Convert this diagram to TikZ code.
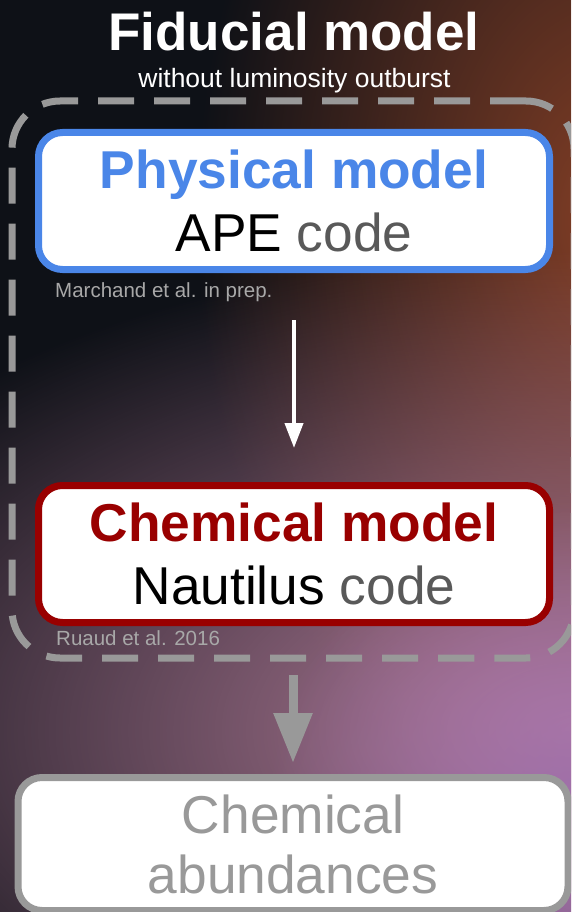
\documentclass[tikz,border=0pt]{standalone}
\usepackage{fontspec}
\setmainfont{Liberation Sans}
\usetikzlibrary{arrows.meta,fadings}

\definecolor{physblue}{HTML}{4A86E8}
\definecolor{chemred}{HTML}{990000}
\definecolor{codegray}{HTML}{595959}
\definecolor{boxgray}{HTML}{999999}
\definecolor{refgray}{HTML}{A8A8A8}
\definecolor{skydark}{HTML}{0E1117}
\definecolor{skybrown}{HTML}{843F26}
\definecolor{skyrose}{HTML}{B8809E}
\definecolor{skyviolet}{HTML}{A070AC}

\tikzfading[name=glow, inner color=transparent!0, outer color=transparent!100]

\begin{document}
\begin{tikzpicture}[x=1pt,y=-1pt,
	model/.style={draw, fill=white, line width=7pt, rounded corners=24pt, minimum width=511pt, minimum height=137pt, align=center, font=\fontsize{53.3}{63}\selectfont},
	ref/.style={text=refgray, font=\fontsize{20.5}{24}\selectfont, anchor=base west, inner sep=0pt}]
		\useasboundingbox (0,0) rectangle (571,912);
		\clip (0,0) rectangle (571,912);

		\fill[skydark] (0,0) rectangle (571,912);
		\fill[skybrown, path fading=glow] (615,220) ellipse (420 and 620);
		\fill[skyrose, path fading=glow] (580,730) ellipse (880 and 480);
		\fill[skyviolet, path fading=glow] (585,820) circle (320);

		\node[text=white, font=\fontsize{53}{60}\selectfont\bfseries, anchor=base] (title) at (294,51) {Fiducial model};
		\node[text=white, font=\fontsize{26.5}{30}\selectfont, anchor=base] (subtitle) at (294.5,88) {without luminosity outburst};

		\node[draw=boxgray, line width=7pt, dash pattern=on 36pt off 20pt, rounded corners=48pt, minimum width=562pt, minimum height=557pt] (frame) at (293,379.5) {};

		\node[model, draw=physblue] (phys) at (294,201) {\textcolor{physblue}{\bfseries Physical model}\\APE \textcolor{codegray}{code}};
		\node[ref] (physref) at (55,297.5) {Marchand et al. in prep.};

		\node[model, draw=chemred] (chem) at (294,554) {\textcolor{chemred}{\bfseries Chemical model}\\Nautilus \textcolor{codegray}{code}};
		\node[ref] (chemref) at (56,645) {Ruaud et al. 2016};

		\node[model, draw=boxgray, text=boxgray, minimum width=550pt, minimum height=133pt, font=\fontsize{53.3}{60}\selectfont] (abund) at (293,844) {Chemical\\abundances};

		\draw[white, line width=4pt, -{Triangle[width=18pt,length=25pt]}, shorten <=47pt, shorten >=34pt] (phys) -- (chem);
		\draw[boxgray, line width=9pt, -{Triangle[width=37pt,length=50pt]}, shorten <=13.5pt, shorten >=11pt] (frame) -- (abund);
	\end{tikzpicture}
\end{document}
